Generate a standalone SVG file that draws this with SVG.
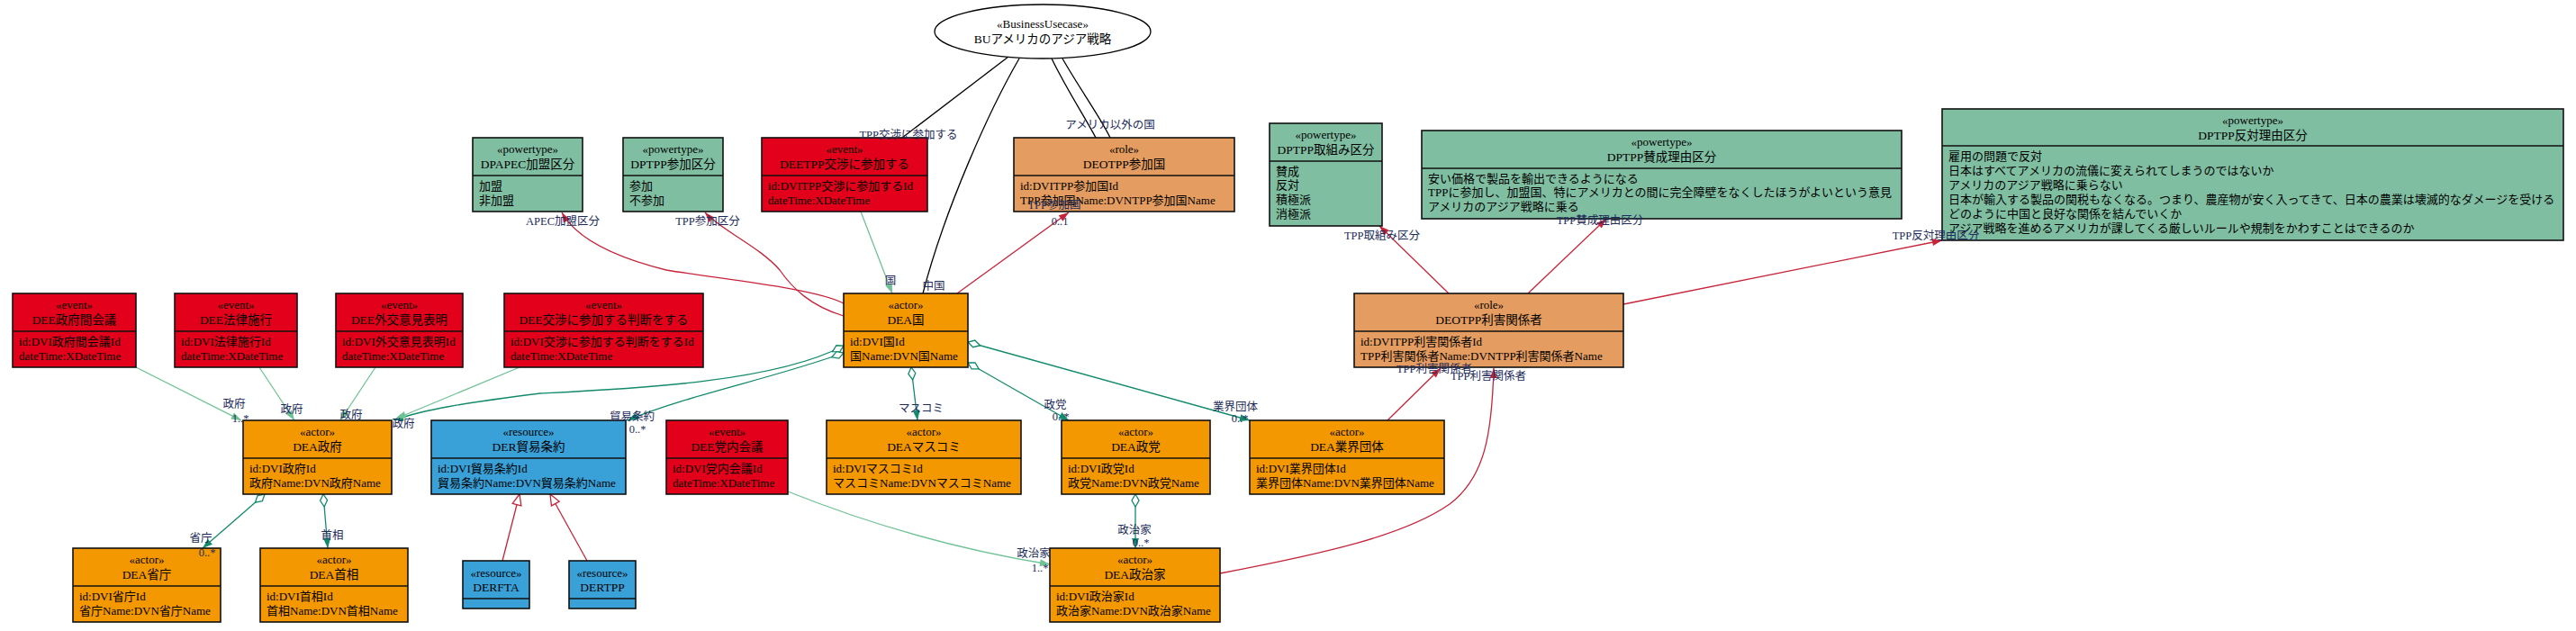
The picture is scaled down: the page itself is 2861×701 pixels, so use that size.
<svg xmlns="http://www.w3.org/2000/svg" width="2861" height="701" viewBox="0 0 2861 701">
<style>
.bx{stroke:#111;stroke-width:1.6}
.ev{fill:#e2001a}.ac{fill:#f39800}.ro{fill:#e49c60}.pt{fill:#80bea2}.rs{fill:#3aa0d8}
.dv{stroke:#111;stroke-width:1.6}
text{font-family:"Liberation Serif","Noto Sans CJK JP",serif;fill:#000}
.st{font-size:13px;text-anchor:middle}
.nm{font-size:13.5px;text-anchor:middle}
.at{font-size:13px}
.lb{font-size:12.5px;fill:#1d2b5b;text-anchor:middle}
.e{fill:none;stroke-width:1.3}
.r{stroke:#c7243a}.dg{stroke:#128a6b}.lg{stroke:#6fc295}.k{stroke:#000}
.ar{marker-end:url(#aR)}.adg{marker-end:url(#aDG);marker-start:url(#dia)}.alg{marker-end:url(#aLG)}.gen{marker-end:url(#tri)}
</style>
<defs>
<marker id="aR" markerUnits="userSpaceOnUse" markerWidth="12" markerHeight="9" refX="11" refY="4" orient="auto" overflow="visible"><path d="M0,0 L11,4 L0,8 z" fill="#c7243a"/></marker>
<marker id="aDG" markerUnits="userSpaceOnUse" markerWidth="12" markerHeight="9" refX="11" refY="4" orient="auto" overflow="visible"><path d="M0,0 L11,4 L0,8 z" fill="#128a6b"/></marker>
<marker id="aLG" markerUnits="userSpaceOnUse" markerWidth="12" markerHeight="9" refX="11" refY="4" orient="auto" overflow="visible"><path d="M0,0 L11,4 L0,8 z" fill="#6fc295"/></marker>
<marker id="dia" markerUnits="userSpaceOnUse" markerWidth="16" markerHeight="10" refX="14" refY="4" orient="auto-start-reverse" overflow="visible"><path d="M0,4 L7,0 L14,4 L7,8 z" fill="#fff" stroke="#128a6b" stroke-width="1.3"/></marker>
<marker id="tri" markerUnits="userSpaceOnUse" markerWidth="14" markerHeight="12" refX="12" refY="5" orient="auto" overflow="visible"><path d="M0,0 L12,5 L0,10 z" fill="#fff" stroke="#c7243a" stroke-width="1.3"/></marker>
</defs>
<rect width="2861" height="701" fill="#fff"/>

<g id="connectors">
<path class="e k" d="M1120,63 L1002,153"/>
<path class="e k" d="M1132,65 C1100,120 1050,230 1025,326"/>
<path class="e k" d="M1168,65 C1185,100 1205,130 1217,153"/>
<path class="e k" d="M1180,65 C1200,100 1222,130 1233,153"/>
<path class="e lg alg" d="M956,235 L991,326"/>
<path class="e r ar" d="M937,337 C905,320 800,310 740,300 C680,285 640,265 624,236"/>
<path class="e r ar" d="M937,351 C900,340 880,320 866,300 C845,275 800,255 783,236"/>
<path class="e r ar" d="M1063,326 L1187,236"/>
<path class="e dg adg" d="M937,384 C860,425 700,432 600,437 C520,447 470,455 437,467"/>
<path class="e dg adg" d="M937,392 C860,420 760,440 697,467"/>
<path class="e dg adg" d="M1012,408 L1019,467"/>
<path class="e dg adg" d="M1075,403 L1187,467"/>
<path class="e dg adg" d="M1075,380 L1388,467"/>
<path class="e dg adg" d="M294,549 L225,609"/>
<path class="e dg adg" d="M359,549 L364,609"/>
<path class="e dg adg" d="M1261,549 L1261,609"/>
<path class="e r gen" d="M558,623 L577,549"/>
<path class="e r gen" d="M652,623 L611,549"/>
<path class="e r ar" d="M1541,467 L1600,409"/>
<path class="e r ar" d="M1355,637 C1470,615 1560,595 1610,560 C1650,530 1657,480 1659,409"/>
<path class="e r ar" d="M1609,326 L1532,251"/>
<path class="e r ar" d="M1697,326 L1784,243"/>
<path class="e r ar" d="M1803,338 L2157,267"/>
<path class="e lg alg" d="M151,408 L268,467"/>
<path class="e lg alg" d="M288,408 L327,467"/>
<path class="e lg alg" d="M417,408 L378,467"/>
<path class="e lg alg" d="M577,408 L440,465"/>
<path class="e lg alg" d="M875,546 C960,580 1060,610 1166,627"/>
</g>

<g id="uc">
<ellipse cx="1158" cy="35" rx="120" ry="30" fill="#fff" stroke="#000" stroke-width="1.3"/>
<text class="st" x="1158" y="31">«BusinessUsecase»</text>
<text class="nm" x="1158" y="48">BUアメリカのアジア戦略</text>
</g>

<g id="ev_seifukan">
<rect class="bx ev" x="14" y="326" width="137" height="82"/><line class="dv" x1="14" y1="368" x2="151" y2="368"/>
<text class="st" x="82.5" y="343">«event»</text><text class="nm" x="82.5" y="360">DEE政府間会議</text>
<text class="at" x="21" y="383.5">id:DVI政府間会議Id</text><text class="at" x="21" y="399.5">dateTime:XDateTime</text>
</g>
<g id="ev_houritsu">
<rect class="bx ev" x="194" y="326" width="136" height="82"/><line class="dv" x1="194" y1="368" x2="330" y2="368"/>
<text class="st" x="262" y="343">«event»</text><text class="nm" x="262" y="360">DEE法律施行</text>
<text class="at" x="201" y="383.5">id:DVI法律施行Id</text><text class="at" x="201" y="399.5">dateTime:XDateTime</text>
</g>
<g id="ev_gaikou">
<rect class="bx ev" x="373" y="326" width="141" height="82"/><line class="dv" x1="373" y1="368" x2="514" y2="368"/>
<text class="st" x="443.5" y="343">«event»</text><text class="nm" x="443.5" y="360">DEE外交意見表明</text>
<text class="at" x="380" y="383.5">id:DVI外交意見表明Id</text><text class="at" x="380" y="399.5">dateTime:XDateTime</text>
</g>
<g id="ev_handan">
<rect class="bx ev" x="560" y="326" width="221" height="82"/><line class="dv" x1="560" y1="368" x2="781" y2="368"/>
<text class="st" x="670.5" y="343">«event»</text><text class="nm" x="670.5" y="360">DEE交渉に参加する判断をする</text>
<text class="at" x="567" y="383.5">id:DVI交渉に参加する判断をするId</text><text class="at" x="567" y="399.5">dateTime:XDateTime</text>
</g>
<g id="pt_apec">
<rect class="bx pt" x="525" y="153" width="122" height="82"/><line class="dv" x1="525" y1="195" x2="647" y2="195"/>
<text class="st" x="586" y="170">«powertype»</text><text class="nm" x="586" y="187">DPAPEC加盟区分</text>
<text class="at" x="532" y="210.5">加盟</text><text class="at" x="532" y="226.5">非加盟</text>
</g>
<g id="pt_sanka">
<rect class="bx pt" x="692" y="153" width="111" height="82"/><line class="dv" x1="692" y1="195" x2="803" y2="195"/>
<text class="st" x="747.5" y="170">«powertype»</text><text class="nm" x="747.5" y="187">DPTPP参加区分</text>
<text class="at" x="699" y="210.5">参加</text><text class="at" x="699" y="226.5">不参加</text>
</g>
<g id="ev_tpp">
<rect class="bx ev" x="846" y="153" width="184" height="82"/><line class="dv" x1="846" y1="195" x2="1030" y2="195"/>
<text class="st" x="938" y="170">«event»</text><text class="nm" x="938" y="187">DEETPP交渉に参加する</text>
<text class="at" x="853" y="210.5">id:DVITPP交渉に参加するId</text><text class="at" x="853" y="226.5">dateTime:XDateTime</text>
</g>
<g id="ro_sankakoku">
<rect class="bx ro" x="1126" y="153" width="245" height="82"/><line class="dv" x1="1126" y1="195" x2="1371" y2="195"/>
<text class="st" x="1248.5" y="170">«role»</text><text class="nm" x="1248.5" y="187">DEOTPP参加国</text>
<text class="at" x="1133" y="210.5">id:DVITPP参加国Id</text><text class="at" x="1133" y="226.5">TPP参加国Name:DVNTPP参加国Name</text>
</g>
<g id="pt_torikumi">
<rect class="bx pt" x="1410" y="137" width="125" height="114"/><line class="dv" x1="1410" y1="179" x2="1535" y2="179"/>
<text class="st" x="1472.5" y="154">«powertype»</text><text class="nm" x="1472.5" y="171">DPTPP取組み区分</text>
<text class="at" x="1417" y="194.5">賛成</text><text class="at" x="1417" y="210.3">反対</text><text class="at" x="1417" y="226.1">積極派</text><text class="at" x="1417" y="241.9">消極派</text>
</g>
<g id="pt_sansei">
<rect class="bx pt" x="1579" y="145" width="533" height="98"/><line class="dv" x1="1579" y1="187" x2="2112" y2="187"/>
<text class="st" x="1845.5" y="162">«powertype»</text><text class="nm" x="1845.5" y="179">DPTPP賛成理由区分</text>
<text class="at" x="1586" y="202.5">安い価格で製品を輸出できるようになる</text>
<text class="at" x="1586" y="218.3">TPPに参加し、加盟国、特にアメリカとの間に完全障壁をなくしたほうがよいという意見</text>
<text class="at" x="1586" y="234.1">アメリカのアジア戦略に乗る</text>
</g>
<g id="pt_hantai">
<rect class="bx pt" x="2157" y="121" width="690" height="146"/><line class="dv" x1="2157" y1="162" x2="2847" y2="162"/>
<text class="st" x="2502" y="138">«powertype»</text><text class="nm" x="2502" y="155">DPTPP反対理由区分</text>
<text class="at" x="2164" y="177.5">雇用の問題で反対</text>
<text class="at" x="2164" y="193.5">日本はすべてアメリカの流儀に変えられてしまうのではないか</text>
<text class="at" x="2164" y="209.5">アメリカのアジア戦略に乗らない</text>
<text class="at" x="2164" y="225.5">日本が輸入する製品の関税もなくなる。つまり、農産物が安く入ってきて、日本の農業は壊滅的なダメージを受ける</text>
<text class="at" x="2164" y="241.5">どのように中国と良好な関係を結んでいくか</text>
<text class="at" x="2164" y="257.5">アジア戦略を進めるアメリカが課してくる厳しいルールや規制をかわすことはできるのか</text>
</g>
<g id="ac_kuni">
<rect class="bx ac" x="937" y="326" width="138" height="82"/><line class="dv" x1="937" y1="368" x2="1075" y2="368"/>
<text class="st" x="1006" y="343">«actor»</text><text class="nm" x="1006" y="360">DEA国</text>
<text class="at" x="944" y="383.5">id:DVI国Id</text><text class="at" x="944" y="399.5">国Name:DVN国Name</text>
</g>
<g id="ro_rigai">
<rect class="bx ro" x="1504" y="326" width="299" height="82"/><line class="dv" x1="1504" y1="368" x2="1803" y2="368"/>
<text class="st" x="1653.5" y="343">«role»</text><text class="nm" x="1653.5" y="360">DEOTPP利害関係者</text>
<text class="at" x="1511" y="383.5">id:DVITPP利害関係者Id</text><text class="at" x="1511" y="399.5">TPP利害関係者Name:DVNTPP利害関係者Name</text>
</g>
<g id="ac_seifu">
<rect class="bx ac" x="270" y="467" width="165" height="82"/><line class="dv" x1="270" y1="509" x2="435" y2="509"/>
<text class="st" x="352.5" y="484">«actor»</text><text class="nm" x="352.5" y="501">DEA政府</text>
<text class="at" x="277" y="524.5">id:DVI政府Id</text><text class="at" x="277" y="540.5">政府Name:DVN政府Name</text>
</g>
<g id="rs_boueki">
<rect class="bx rs" x="479" y="467" width="216" height="82"/><line class="dv" x1="479" y1="509" x2="695" y2="509"/>
<text class="st" x="587" y="484">«resource»</text><text class="nm" x="587" y="501">DER貿易条約</text>
<text class="at" x="486" y="524.5">id:DVI貿易条約Id</text><text class="at" x="486" y="540.5">貿易条約Name:DVN貿易条約Name</text>
</g>
<g id="ev_tounai">
<rect class="bx ev" x="740" y="467" width="135" height="82"/><line class="dv" x1="740" y1="509" x2="875" y2="509"/>
<text class="st" x="807.5" y="484">«event»</text><text class="nm" x="807.5" y="501">DEE党内会議</text>
<text class="at" x="747" y="524.5">id:DVI党内会議Id</text><text class="at" x="747" y="540.5">dateTime:XDateTime</text>
</g>
<g id="ac_masukomi">
<rect class="bx ac" x="918" y="467" width="216" height="82"/><line class="dv" x1="918" y1="509" x2="1134" y2="509"/>
<text class="st" x="1026" y="484">«actor»</text><text class="nm" x="1026" y="501">DEAマスコミ</text>
<text class="at" x="925" y="524.5">id:DVIマスコミId</text><text class="at" x="925" y="540.5">マスコミName:DVNマスコミName</text>
</g>
<g id="ac_seitou">
<rect class="bx ac" x="1179" y="467" width="165" height="82"/><line class="dv" x1="1179" y1="509" x2="1344" y2="509"/>
<text class="st" x="1261.5" y="484">«actor»</text><text class="nm" x="1261.5" y="501">DEA政党</text>
<text class="at" x="1186" y="524.5">id:DVI政党Id</text><text class="at" x="1186" y="540.5">政党Name:DVN政党Name</text>
</g>
<g id="ac_gyoukai">
<rect class="bx ac" x="1388" y="467" width="216" height="82"/><line class="dv" x1="1388" y1="509" x2="1604" y2="509"/>
<text class="st" x="1496" y="484">«actor»</text><text class="nm" x="1496" y="501">DEA業界団体</text>
<text class="at" x="1395" y="524.5">id:DVI業界団体Id</text><text class="at" x="1395" y="540.5">業界団体Name:DVN業界団体Name</text>
</g>
<g id="ac_shouchou">
<rect class="bx ac" x="81" y="609" width="164" height="82"/><line class="dv" x1="81" y1="651" x2="245" y2="651"/>
<text class="st" x="163" y="626">«actor»</text><text class="nm" x="163" y="643">DEA省庁</text>
<text class="at" x="88" y="666.5">id:DVI省庁Id</text><text class="at" x="88" y="682.5">省庁Name:DVN省庁Name</text>
</g>
<g id="ac_shushou">
<rect class="bx ac" x="289" y="609" width="164" height="82"/><line class="dv" x1="289" y1="651" x2="453" y2="651"/>
<text class="st" x="371" y="626">«actor»</text><text class="nm" x="371" y="643">DEA首相</text>
<text class="at" x="296" y="666.5">id:DVI首相Id</text><text class="at" x="296" y="682.5">首相Name:DVN首相Name</text>
</g>
<g id="rs_fta">
<rect class="bx rs" x="514" y="623" width="74" height="53"/><line class="dv" x1="514" y1="665" x2="588" y2="665"/>
<text class="st" x="551" y="641">«resource»</text><text class="nm" x="551" y="657">DERFTA</text>
</g>
<g id="rs_tpp">
<rect class="bx rs" x="632" y="623" width="74" height="53"/><line class="dv" x1="632" y1="665" x2="706" y2="665"/>
<text class="st" x="669" y="641">«resource»</text><text class="nm" x="669" y="657">DERTPP</text>
</g>
<g id="ac_seijika">
<rect class="bx ac" x="1166" y="609" width="189" height="82"/><line class="dv" x1="1166" y1="651" x2="1355" y2="651"/>
<text class="st" x="1260.5" y="626">«actor»</text><text class="nm" x="1260.5" y="643">DEA政治家</text>
<text class="at" x="1173" y="666.5">id:DVI政治家Id</text><text class="at" x="1173" y="682.5">政治家Name:DVN政治家Name</text>
</g>

<g id="connector-labels">
<text class="lb" x="1009" y="154">TPP交渉に参加する</text>
<text class="lb" x="1037" y="322">中国</text>
<text class="lb" x="1233" y="143">アメリカ以外の国</text>
<text class="lb" x="989" y="316">国</text>
<text class="lb" x="625" y="250">APEC加盟区分</text>
<text class="lb" x="786" y="250">TPP参加区分</text>
<text class="lb" x="1171" y="232">TPP参加国</text>
<text class="lb" x="1177" y="250">0..1</text>
<text class="lb" x="448" y="475">政府</text>
<text class="lb" x="702" y="467">貿易条約</text>
<text class="lb" x="708" y="481">0..*</text>
<text class="lb" x="1023" y="458">マスコミ</text>
<text class="lb" x="1172" y="454">政党</text>
<text class="lb" x="1178" y="467">0..*</text>
<text class="lb" x="1372" y="456">業界団体</text>
<text class="lb" x="1377" y="469">0..*</text>
<text class="lb" x="223" y="602">省庁</text>
<text class="lb" x="230" y="618">0..*</text>
<text class="lb" x="369" y="599">首相</text>
<text class="lb" x="1260" y="593">政治家</text>
<text class="lb" x="1267" y="607">0..*</text>
<text class="lb" x="1593" y="414">TPP利害関係者</text>
<text class="lb" x="1653" y="422">TPP利害関係者</text>
<text class="lb" x="1535" y="266">TPP取組み区分</text>
<text class="lb" x="1777" y="249">TPP賛成理由区分</text>
<text class="lb" x="2150" y="266">TPP反対理由区分</text>
<text class="lb" x="260" y="453">政府</text>
<text class="lb" x="267" y="469">1..*</text>
<text class="lb" x="324" y="459">政府</text>
<text class="lb" x="390" y="465">政府</text>
<text class="lb" x="1148" y="619">政治家</text>
<text class="lb" x="1155" y="635">1..*</text>
</g>
</svg>
